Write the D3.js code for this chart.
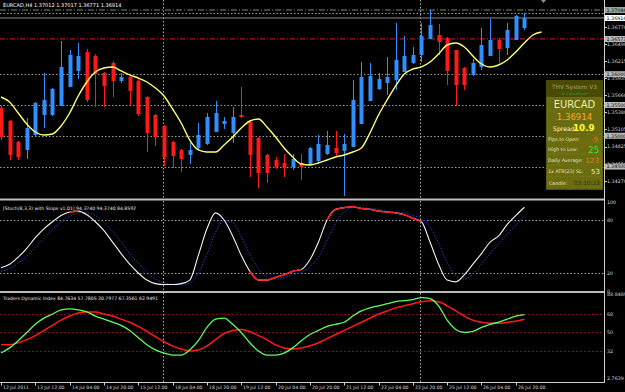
<!DOCTYPE html>
<html>
<head>
<meta charset="utf-8">
<script src="https://cdn.jsdelivr.net/npm/d3@7"></script>
<style>
body { margin: 0; background: #000; }
svg text { font-family: "DejaVu Sans", sans-serif; }
</style>
</head>
<body>
<div id="chart"></div>
<script>
// H4 bars, 12 Jul 20:00 .. 27 Jul 00:00
const timeLabels = ["12 Jul 2011", "13 Jul 12:00", "14 Jul 04:00", "14 Jul 20:00", "15 Jul 12:00", "18 Jul 04:00",
    "18 Jul 20:00", "19 Jul 12:00", "20 Jul 04:00", "20 Jul 20:00", "21 Jul 12:00", "22 Jul 04:00",
    "22 Jul 20:00", "25 Jul 12:00", "26 Jul 04:00", "26 Jul 20:00"];

const opens = [1.35451, 1.35240, 1.34899, 1.34769, 1.35013, 1.35338, 1.35338, 1.35484, 1.35793, 1.36053,
    1.36361, 1.36296, 1.36020, 1.36183, 1.35890, 1.35955, 1.35890, 1.35630, 1.35338, 1.35159,
    1.34899, 1.34769, 1.34688, 1.34801, 1.34866, 1.35061, 1.35191, 1.35045, 1.35338, 1.35224,
    1.34964, 1.34688, 1.34606, 1.34558, 1.34493, 1.34558, 1.34525, 1.34590, 1.34704, 1.34801,
    1.34753, 1.34818, 1.35191, 1.35565, 1.35760, 1.35858, 1.35906, 1.36036, 1.36183, 1.36313,
    1.36573, 1.36638, 1.36589, 1.36394, 1.36101, 1.35988, 1.36118, 1.36296, 1.36556, 1.36426,
    1.36556, 1.36751];
const highs = [1.35500, 1.35256, 1.34915, 1.35289, 1.35549, 1.36020, 1.35776, 1.36540, 1.36394, 1.36508,
    1.36410, 1.36329, 1.36036, 1.36215, 1.36020, 1.35971, 1.35923, 1.35646, 1.35354, 1.35175,
    1.34915, 1.34785, 1.34931, 1.35208, 1.35370, 1.35565, 1.35305, 1.35468, 1.35793, 1.35240,
    1.34980, 1.34704, 1.34655, 1.34704, 1.34704, 1.34704, 1.34818, 1.35013, 1.35078, 1.35078,
    1.35029, 1.35906, 1.36199, 1.36183, 1.36020, 1.36280, 1.36833, 1.36621, 1.36443, 1.36833,
    1.37044, 1.36816, 1.36605, 1.36394, 1.36118, 1.36248, 1.36751, 1.36898, 1.36589, 1.36833,
    1.36963, 1.36995];
const lows = [1.34931, 1.34606, 1.34606, 1.34623, 1.34996, 1.35126, 1.35321, 1.35484, 1.35793, 1.35923,
    1.35549, 1.35468, 1.35468, 1.35630, 1.35858, 1.35500, 1.35321, 1.34736, 1.34834, 1.34509,
    1.34476, 1.34411, 1.34541, 1.34769, 1.34850, 1.35061, 1.35110, 1.34883, 1.35289, 1.34330,
    1.34151, 1.34233, 1.34460, 1.34330, 1.34444, 1.34281, 1.34509, 1.34558, 1.34688, 1.34655,
    1.34021, 1.34818, 1.35191, 1.35565, 1.35744, 1.35663, 1.35744, 1.36036, 1.36166, 1.36199,
    1.36573, 1.36313, 1.35825, 1.35484, 1.35744, 1.35971, 1.36069, 1.36296, 1.36183, 1.36313,
    1.36556, 1.36719];
const closes = [1.34980, 1.34688, 1.34655, 1.35126, 1.35533, 1.35581, 1.35760, 1.36118, 1.36313, 1.36296,
    1.35581, 1.36004, 1.35809, 1.35890, 1.35955, 1.35728, 1.35354, 1.35045, 1.34980, 1.34655,
    1.34671, 1.34623, 1.34769, 1.35013, 1.35305, 1.35370, 1.35240, 1.35305, 1.35305, 1.34688,
    1.34395, 1.34395, 1.34493, 1.34476, 1.34623, 1.34493, 1.34801, 1.34866, 1.34850, 1.34720,
    1.34866, 1.35581, 1.35955, 1.35971, 1.35923, 1.35955, 1.36231, 1.36296, 1.36313, 1.36621,
    1.36800, 1.36524, 1.36053, 1.35825, 1.35825, 1.36183, 1.36475, 1.36556, 1.36410, 1.36719,
    1.36946, 1.36914];

// shifted moving average (runs two bars past the last candle)
const maValues = [1.35630, 1.35549, 1.35370, 1.35191, 1.35061, 1.35013, 1.35029, 1.35159, 1.35370, 1.35646,
    1.35874, 1.36036, 1.36101, 1.36118, 1.36053, 1.35988, 1.35939, 1.35874, 1.35776, 1.35646,
    1.35435, 1.35208, 1.34931, 1.34769, 1.34736, 1.34736, 1.34850, 1.34980, 1.35126, 1.35240,
    1.35273, 1.35143, 1.34980, 1.34801, 1.34655, 1.34541, 1.34525, 1.34558, 1.34606, 1.34655,
    1.34688, 1.34736, 1.34801, 1.35045, 1.35338, 1.35581, 1.35809, 1.36004, 1.36085, 1.36118,
    1.36199, 1.36329, 1.36475, 1.36508, 1.36443, 1.36296, 1.36166, 1.36118, 1.36150, 1.36231,
    1.36361, 1.36508, 1.36638, 1.36686];

const stochMain = [26, 30, 38, 48, 60, 70, 78, 85, 89, 90, 86, 78, 68, 55, 42, 30, 20, 12, 8, 7,
    7, 8, 12, 40, 70, 88, 80, 62, 40, 22, 12, 12, 15, 18, 22, 24, 35, 55, 80, 92,
    94, 95, 93, 92, 90, 89, 88, 86, 82, 78, 55, 30, 12, 10, 18, 30, 42, 55, 62, 75,
    85, 94.374];
const stochSignal = [22, 25, 31, 39, 49, 59, 69, 78, 84, 88, 88, 85, 77, 67, 55, 42, 31, 21, 13, 9,
    7, 7, 9, 20, 41, 66, 79, 77, 61, 41, 25, 15, 13, 15, 18, 21, 27, 38, 57, 76,
    89, 94, 94, 93, 92, 90, 89, 88, 85, 82, 72, 54, 32, 17, 13, 19, 30, 42, 53, 64,
    74, 84.859];
const stochRedRuns = [[8, 9], [29, 35], [38, 49]];

const tdiGreen = [30, 35, 42, 50, 58, 64, 68, 72, 73, 72, 70, 66, 63, 60, 57, 52, 45, 38, 33, 30,
    28, 28, 33, 42, 55, 63, 64, 58, 50, 40, 32, 28, 28, 30, 35, 42, 48, 52, 56, 58,
    60, 66, 71, 74, 76, 78, 80, 81, 82, 84, 83, 76, 62, 53, 50, 51, 55, 58, 60, 63,
    66, 67.356];
const tdiRed = [38, 38, 40, 43, 47, 52, 57, 62, 66, 69, 70, 70, 68, 66, 63, 60, 56, 51, 46, 41,
    37, 34, 32, 33, 37, 43, 49, 52, 53, 51, 47, 43, 38, 35, 34, 35, 37, 40, 44, 48,
    52, 56, 60, 64, 68, 71, 74, 76, 78, 80, 81, 80, 76, 71, 66, 62, 60, 59, 59, 60,
    61, 62.949];

const priceTicks = ["1.36770", "1.36490", "1.36215", "1.35935", "1.35660", "1.35380", "1.35105", "1.34825", "1.34550", "1.34270"];
const roundLevels = [1.3700, 1.3600, 1.3550, 1.3500, 1.3450];
const stochLevels = [80, 20];
const tdiLevels = [68, 50, 32];
const weekStarts = [19, 49];

class MtChart {
    constructor(parentElement) {
        this.parentElement = parentElement;
        this.initVis();
    }

    initVis() {
        let vis = this;
        vis.width = 625;
        vis.height = 392;
        vis.axisX = 604.5;

        vis.svg = d3.select("#" + vis.parentElement).append("svg")
            .attr("width", vis.width)
            .attr("height", vis.height);
        vis.svg.append("rect").attr("width", vis.width).attr("height", vis.height).attr("fill", "#000");

        vis.x = d3.scaleLinear().domain([0, 70]).range([1, 1 + 70 * 8.58]);
        vis.yMain = d3.scaleLinear().domain([1.3450, 1.3700]).range([166.54, 12.69]);
        vis.yStoch = d3.scaleLinear().domain([0, 100]).range([290.7, 202.3]);
        vis.yTdi = d3.scaleLinear().domain([2.7639, 88.8489]).range([381, 292.6]);

        let defs = vis.svg.append("defs");
        [["clip-main", 0, 198], ["clip-stoch", 201, 90], ["clip-tdi", 293, 89]].forEach(c => {
            defs.append("clipPath").attr("id", c[0]).append("rect")
                .attr("x", 0).attr("y", c[1]).attr("width", 604).attr("height", c[2]);
        });

        vis.drawMain();
        vis.drawStoch();
        vis.drawTdi();
        vis.drawFrame();
        vis.drawInfoBox();
    }

    drawMain() {
        let vis = this;
        let g = vis.svg.append("g").attr("clip-path", "url(#clip-main)");

        // round number levels
        g.selectAll(".lvl").data(roundLevels).enter().append("line")
            .attr("x1", 0).attr("x2", 604)
            .attr("y1", d => Math.round(vis.yMain(d)) + 0.5).attr("y2", d => Math.round(vis.yMain(d)) + 0.5)
            .attr("stroke", "#9a9a9a").attr("stroke-dasharray", "1.5,2");

        weekStarts.forEach(b => {
            g.append("line").attr("x1", Math.round(vis.x(b)) - 0.5).attr("x2", Math.round(vis.x(b)) - 0.5)
                .attr("y1", 0).attr("y2", 198)
                .attr("stroke", "#b0b0b0").attr("stroke-dasharray", "1.5,2");
        });

        // daily high / open style lines
        g.append("line").attr("x1", 0).attr("x2", 604)
            .attr("y1", vis.yMain(1.37044)).attr("y2", vis.yMain(1.37044))
            .attr("stroke", "#6f8f6f").attr("stroke-dasharray", "6,2,1,2");
        g.append("line").attr("x1", 0).attr("x2", 604)
            .attr("y1", vis.yMain(1.36573)).attr("y2", vis.yMain(1.36573))
            .attr("stroke", "#b01818").attr("stroke-dasharray", "5,2,1,2").attr("stroke-width", 1.2);
        g.append("line").attr("x1", 0).attr("x2", 604)
            .attr("y1", vis.yMain(1.36914)).attr("y2", vis.yMain(1.36914))
            .attr("stroke", "#8c8c8c");

        // candles
        let idx = d3.range(closes.length);
        let col = i => closes[i] >= opens[i] ? "#2f8fff" : "#ff1a1a";
        g.selectAll(".wick").data(idx).enter().append("line")
            .attr("x1", i => Math.round(vis.x(i)) + 0.5).attr("x2", i => Math.round(vis.x(i)) + 0.5)
            .attr("y1", i => vis.yMain(highs[i])).attr("y2", i => vis.yMain(lows[i]))
            .attr("stroke", col);
        g.selectAll(".body").data(idx).enter().append("rect")
            .attr("x", i => Math.round(vis.x(i)) - 1.5)
            .attr("width", 4)
            .attr("y", i => vis.yMain(Math.max(opens[i], closes[i])))
            .attr("height", i => Math.max(1, Math.abs(vis.yMain(opens[i]) - vis.yMain(closes[i]))))
            .attr("fill", col);

        // moving average
        g.append("path")
            .attr("d", d3.line().x((d, i) => vis.x(i)).y(d => vis.yMain(d)).curve(d3.curveMonotoneX)(maValues))
            .attr("fill", "none").attr("stroke", "#ffff70").attr("stroke-width", 1.4);

        vis.svg.append("text").attr("x", 3).attr("y", 6.5)
            .attr("fill", "#ffffff").attr("font-size", 5)
            .text("EURCAD,H4  1.37012 1.37017 1.36771 1.36914");

        // chart shift marker
        vis.svg.append("path").attr("d", "M541,0 L546,0 L543.5,3 Z").attr("fill", "#909090");

        // price axis
        let axis = vis.svg.append("g");
        let tickStep = 0.00278;
        priceTicks.forEach((t, i) => {
            let y = vis.yMain(1.36770 - i * tickStep);
            axis.append("line").attr("x1", vis.axisX).attr("x2", vis.axisX + 2.5)
                .attr("y1", Math.round(y) + 0.5).attr("y2", Math.round(y) + 0.5).attr("stroke", "#d0d0d0");
            axis.append("text").attr("x", 607).attr("y", y + 1.8)
                .attr("fill", "#d8d8d8").attr("font-size", 4.8).text(t);
        });

        let boxes = [
            [1.37044, "1.37044", "#9aa89a", "#000"],
            [1.36573, "1.36573", "#b8b8b8", "#000"],
            [1.3600, "1.36000", "#b8b8b8", "#000"],
            [1.3550, "1.35500", "#b8b8b8", "#000"],
            [1.3500, "1.35000", "#b8b8b8", "#000"],
            [1.3450, "1.34500", "#b8b8b8", "#000"],
            [1.36914, "1.36914", "#ffffff", "#000"]
        ];
        boxes.forEach(b => {
            let y = vis.yMain(b[0]);
            axis.append("rect").attr("x", 605).attr("y", y - 3).attr("width", 20).attr("height", 6)
                .attr("fill", b[2]);
            axis.append("text").attr("x", 606.5).attr("y", y + 1.8)
                .attr("fill", b[3]).attr("font-size", 4.8).text(b[1]);
        });
    }

    drawStoch() {
        let vis = this;
        let g = vis.svg.append("g").attr("clip-path", "url(#clip-stoch)");

        g.selectAll(".slvl").data(stochLevels).enter().append("line")
            .attr("x1", 0).attr("x2", 604)
            .attr("y1", d => Math.round(vis.yStoch(d)) + 0.5).attr("y2", d => Math.round(vis.yStoch(d)) + 0.5)
            .attr("stroke", "#a0a0a0").attr("stroke-dasharray", "1.5,2");
        weekStarts.forEach(b => {
            g.append("line").attr("x1", Math.round(vis.x(b)) - 0.5).attr("x2", Math.round(vis.x(b)) - 0.5)
                .attr("y1", 201).attr("y2", 291)
                .attr("stroke", "#b0b0b0").attr("stroke-dasharray", "1.5,2");
        });

        let line = d3.line().x((d, i) => vis.x(i)).y(d => vis.yStoch(d)).curve(d3.curveMonotoneX);
        g.append("path").attr("d", line(stochSignal))
            .attr("fill", "none").attr("stroke", "#2440c8").attr("stroke-width", 1).attr("stroke-dasharray", "1.5,1.5");
        g.append("path").attr("d", line(stochMain))
            .attr("fill", "none").attr("stroke", "#f4f4f4").attr("stroke-width", 1.1);

        let seg = d3.line().x(d => vis.x(d)).y(d => vis.yStoch(stochMain[d])).curve(d3.curveMonotoneX);
        stochRedRuns.forEach(r => {
            g.append("path").attr("d", seg(d3.range(r[0], r[1] + 1)))
                .attr("fill", "none").attr("stroke", "#ff1a1a").attr("stroke-width", 1.5);
        });

        vis.svg.append("text").attr("x", 3).attr("y", 210)
            .attr("fill", "#e8e8e8").attr("font-size", 4.6)
            .text("[Stoch(8,3,3) with Slope v1.01] 94.3740 94.3740 84.8592");

        [[100, "100"], [80, "80"], [20, "20"], [0, "0"]].forEach(t => {
            vis.svg.append("text").attr("x", 607).attr("y", vis.yStoch(t[0]) + 1.8)
                .attr("fill", "#d8d8d8").attr("font-size", 4.8).text(t[1]);
        });
    }

    drawTdi() {
        let vis = this;
        let g = vis.svg.append("g").attr("clip-path", "url(#clip-tdi)");

        g.selectAll(".tlvl").data(tdiLevels).enter().append("line")
            .attr("x1", 0).attr("x2", 604)
            .attr("y1", d => Math.round(vis.yTdi(d)) + 0.5).attr("y2", d => Math.round(vis.yTdi(d)) + 0.5)
            .attr("stroke", "#8a1010").attr("stroke-dasharray", "2,2");
        weekStarts.forEach(b => {
            g.append("line").attr("x1", Math.round(vis.x(b)) - 0.5).attr("x2", Math.round(vis.x(b)) - 0.5)
                .attr("y1", 293).attr("y2", 382)
                .attr("stroke", "#b0b0b0").attr("stroke-dasharray", "1.5,2");
        });

        let line = d3.line().x((d, i) => vis.x(i)).y(d => vis.yTdi(d)).curve(d3.curveMonotoneX);
        g.append("path").attr("d", line(tdiRed))
            .attr("fill", "none").attr("stroke", "#ff1a1a").attr("stroke-width", 1.5);
        g.append("path").attr("d", line(tdiGreen))
            .attr("fill", "none").attr("stroke", "#5cff5c").attr("stroke-width", 1.3);

        vis.svg.append("text").attr("x", 3).attr("y", 300)
            .attr("fill", "#e8e8e8").attr("font-size", 4.6)
            .text("Traders Dynamic Index 84.7634 57.7805 30.7977 67.3561 62.9491");

        [[88.8489, "88.8489", 3], [68, "68", 1.8], [50, "50", 1.8], [32, "32", 1.8], [2.7639, "2.7639", -1]].forEach(t => {
            vis.svg.append("text").attr("x", 607).attr("y", vis.yTdi(t[0]) + t[2])
                .attr("fill", "#d8d8d8").attr("font-size", 4.8).text(t[1]);
        });
    }

    drawFrame() {
        let vis = this;
        let f = vis.svg.append("g");
        f.append("line").attr("x1", 0).attr("x2", 605).attr("y1", 199.5).attr("y2", 199.5)
            .attr("stroke", "#bdbdbd").attr("stroke-width", 2);
        f.append("line").attr("x1", 0).attr("x2", 605).attr("y1", 292).attr("y2", 292)
            .attr("stroke", "#bdbdbd").attr("stroke-width", 2);
        f.append("line").attr("x1", 0).attr("x2", 605).attr("y1", 382.5).attr("y2", 382.5)
            .attr("stroke", "#d0d0d0");
        f.append("line").attr("x1", vis.axisX).attr("x2", vis.axisX).attr("y1", 0).attr("y2", 383)
            .attr("stroke", "#d0d0d0");

        timeLabels.forEach((t, i) => {
            let xx = Math.round(vis.x(i * 4)) + 0.5;
            f.append("line").attr("x1", xx).attr("x2", xx).attr("y1", 383).attr("y2", 385.5)
                .attr("stroke", "#d0d0d0");
            f.append("text").attr("x", xx + 1.5).attr("y", 389)
                .attr("fill", "#d8d8d8").attr("font-size", 4.6).text(t);
        });
    }

    drawInfoBox() {
        let vis = this;
        let b = vis.svg.append("g");
        let left = 546, right = 603, cx = (left + right) / 2;

        b.append("rect").attr("x", left).attr("y", 80).attr("width", right - left).attr("height", 110)
            .attr("fill", "#55550a");
        b.append("rect").attr("x", left).attr("y", 80).attr("width", right - left).attr("height", 17)
            .attr("fill", "#4a4a08");
        let rows = [[97.5, 12.5], [110.5, 11], [122, 10.5], [133, 10.5], [143.8, 10.5], [154.6, 10.5], [165.4, 10.5], [176.2, 12.5]];
        rows.forEach(r => {
            b.append("rect").attr("x", left + 1).attr("y", r[0]).attr("width", right - left - 2).attr("height", r[1] - 0.6)
                .attr("fill", "#6b6b10").attr("stroke", "#7e7e22").attr("stroke-width", 0.5);
        });

        let txt = (x, y, s, fill, size, anchor, weight) => b.append("text")
            .attr("x", x).attr("y", y).attr("fill", fill).attr("font-size", size)
            .attr("text-anchor", anchor || "start").attr("font-weight", weight || "normal").text(s);

        txt(cx, 88.5, "THV System V3", "#a8a84a", 5.8, "middle");
        txt(cx, 94.5, "© CobraForex", "#2f9f2f", 3.8, "middle");
        txt(cx, 107.5, "EURCAD", "#eeeeaa", 10, "middle");
        txt(cx, 119.5, "1.36914", "#ffaa1e", 8.6, "middle");
        txt(553, 130.5, "Spread", "#f4f4e0", 6.2);
        txt(573, 131, "10.9", "#ffff30", 8.8, "start", "bold");
        txt(548, 140.5, "Pips to Open:", "#e4e4c0", 4.8);
        txt(598, 141.5, "-9", "#ff6a00", 7, "end");
        txt(548, 151.3, "High to Low:", "#e4e4c0", 4.8);
        txt(599, 152.8, "25", "#3ee03e", 8.4, "end");
        txt(548, 162.1, "Daily Average:", "#e4e4c0", 4.8);
        txt(599, 163.3, "123", "#d48a10", 7.2, "end");
        txt(548, 172.9, "1x ATR(23) SL:", "#e4e4c0", 4.8);
        txt(600, 174, "53", "#f0f0b0", 7, "end");
        txt(549, 184.5, "Candle:", "#e4e4c0", 4.8);
        txt(600, 185, "03:10:23", "#34341a", 5.8, "end");
    }
}

new MtChart("chart");
</script>
</body>
</html>
